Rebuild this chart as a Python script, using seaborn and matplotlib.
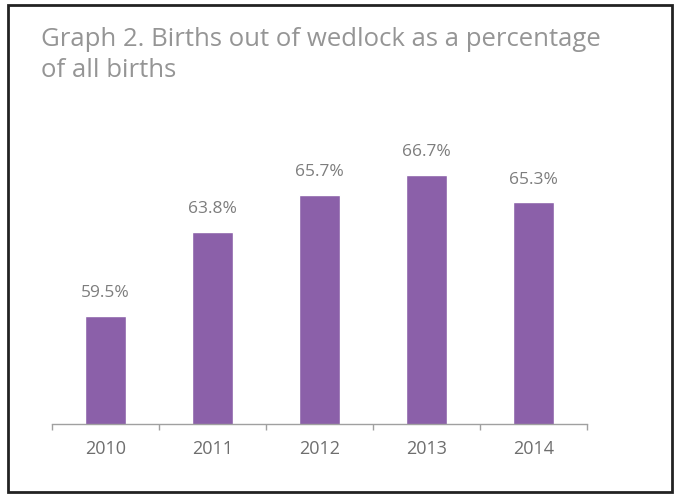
import numpy as np
import pandas as pd
import seaborn as sns
import matplotlib.pyplot as plt
from matplotlib.patches import Rectangle
from matplotlib.ticker import FixedLocator

# dados do gráfico
anos = ["2010", "2011", "2012", "2013", "2014"]
percentuais = [59.5, 63.8, 65.7, 66.7, 65.3]
rotulos = ["59.5%", "63.8%", "65.7%", "66.7%", "65.3%"]

df = pd.DataFrame({"ano": anos, "pct": percentuais})

sns.set_theme(style="white")
plt.rcParams['font.family'] = ['Open Sans', 'DejaVu Sans']

fig = plt.figure(figsize=(6.8, 4.98), dpi=100)
ax = fig.add_axes([0.076, 0.149, 0.787, 0.59])

sns.barplot(data=df, x="ano", y="pct", color="#8b60a9", width=0.38,
            saturation=1, ax=ax)

ax.set_ylim(54, 69)
ax.set_xlim(-0.5, 4.5)

for i, (v, r) in enumerate(zip(percentuais, rotulos)):
    ax.text(i, v + 0.75, r, ha="center", va="bottom", fontsize=12.5,
            color="#7d7d7d")

# eixo
for s in ["top", "right", "left"]:
    ax.spines[s].set_visible(False)
ax.spines["bottom"].set_color("#a0a0a0")
ax.spines["bottom"].set_linewidth(1)
ax.set_yticks([])
ax.set_xlabel("")
ax.set_ylabel("")
ax.tick_params(axis="x", which="major", length=0, labelsize=13,
               labelcolor="#6e6e6e", pad=12)
ax.xaxis.set_minor_locator(FixedLocator(np.arange(-0.5, 5, 1)))
ax.tick_params(axis="x", which="minor", length=4, color="#a0a0a0",
               bottom=True)

fig.text(0.060, 0.945, "Graph 2. Births out of wedlock as a percentage\nof all births",
         ha="left", va="top", fontsize=18.5, color="#959595", linespacing=1.3)

# moldura
fig.patches.append(Rectangle((0.012, 0.012), 0.976, 0.978, transform=fig.transFigure,
                             fill=False, edgecolor="#222222", linewidth=2))

fig.savefig("out.png", dpi=100)
